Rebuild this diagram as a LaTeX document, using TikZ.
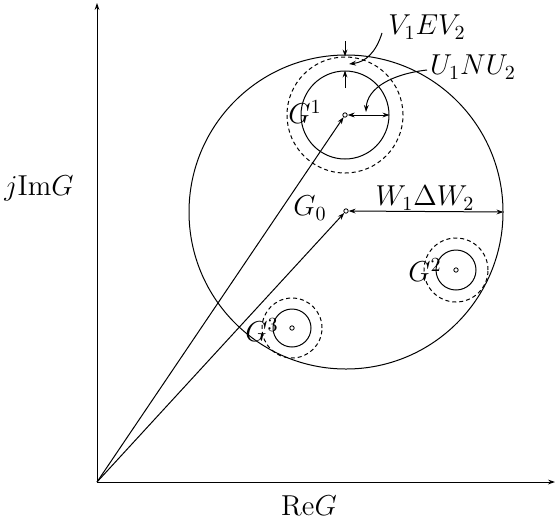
\documentclass[tikz,border=0pt]{standalone}
\usetikzlibrary{arrows.meta}
\begin{document}
\begin{tikzpicture}[x=0.5pt,y=-0.5pt,
  font=\fontsize{14}{17}\selectfont,
  >={Stealth[length=3.5pt,width=2.4pt]},
  line width=0.5pt,
  ring/.style={circle,draw,inner sep=0pt},
  dashring/.style={circle,draw,inner sep=0pt,dash pattern=on 2pt off 1.5pt},
  dot/.style={circle,draw,inner sep=0pt,minimum size=2.2pt,line width=0.4pt},
  lbl/.style={inner sep=0pt}]
\useasboundingbox (0,0) rectangle (555,525);
% axes
\coordinate (O) at (97,482);
\coordinate (Ytop) at (97,3);
\coordinate (Xend) at (555,482);
\draw[->] (O) -- (Ytop);
\draw[->] (O) -- (Xend);
\node[lbl] (ylab) at (39,188) {$j\mathrm{Im}G$};
\node[lbl] (xlab) at (309,506) {$\mathrm{Re}G$};
% big circle
\node[ring,minimum size=157pt] (big) at (346,212) {};
\node[dot] (g0dot) at (346,211) {};
\node[lbl] (g0lab) at (310,208) {$G_0$};
\draw[<->] (g0dot.east) -- (big.east);
\node[lbl] (wlab) at (425,198) {$W_1\Delta W_2$};
% G1
\node[ring,minimum size=44pt] (g1in) at (345,115) {};
\node[dashring,minimum size=58pt] (g1out) at (345,115) {};
\node[dot] (g1dot) at (345,115) {};
\node[lbl] (g1lab) at (305,112) {$G^1$};
\draw[<->] (g1dot.east) -- (g1in.east);
\coordinate (va) at (345,41);
\coordinate (vb) at (345,88);
\draw[->] (va) -- (g1out.north);
\draw[->] (vb) -- (g1in.north);
\node[lbl] (vlab) at (427,27) {$V_1EV_2$};
\coordinate (vc) at (382,33);
\coordinate (vd) at (349,64);
\draw[->] (vc) .. controls (376,52) and (366,62) .. (vd);
\node[lbl] (ulab) at (473,67) {$U_1NU_2$};
\coordinate (uc) at (427,70);
\coordinate (ud) at (366,112);
\draw[->] (uc) .. controls (392,74) and (367,88) .. (ud);
% G2
\node[ring,minimum size=20pt] (g2in) at (456,270) {};
\node[dashring,minimum size=32pt] (g2out) at (456,270) {};
\node[dot] (g2dot) at (456,270) {};
\node[lbl] (g2lab) at (425,270) {$G^2$};
% G3
\node[ring,minimum size=19pt] (g3in) at (292,328) {};
\node[dashring,minimum size=30pt] (g3out) at (292,328) {};
\node[dot] (g3dot) at (292,328) {};
\node[lbl] (g3lab) at (262,330) {$G^3$};
% rays from origin
\draw[->] (O) -- (g1dot);
\draw[->] (O) -- (g0dot);
\end{tikzpicture}
\end{document}
